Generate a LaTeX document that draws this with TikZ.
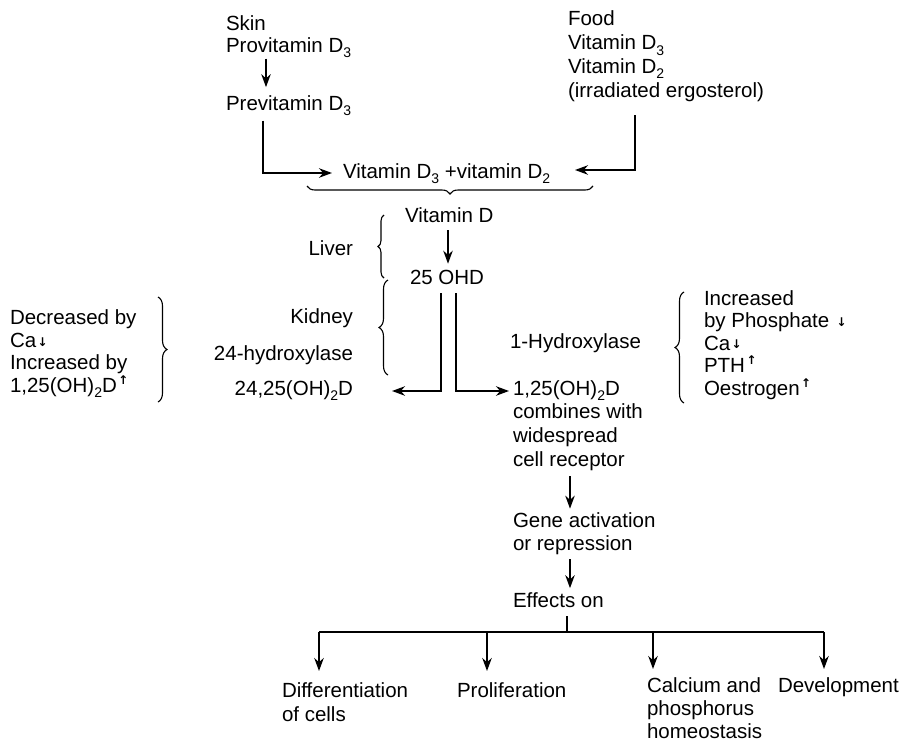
\documentclass[tikz,border=0pt]{standalone}
\usepackage{fontspec}
\setmainfont{Liberation Sans}
\newfontfamily\dejavu{DejaVu Sans}
\usetikzlibrary{arrows.meta,decorations.pathreplacing,calc}
\newcommand\sbs[1]{\raisebox{-0.5ex}{\fontsize{14}{14}\selectfont #1}}
\newcommand\sdn{\hspace{1.5pt}\raisebox{0.1ex}{\fontsize{12}{12}\dejavu\bfseries ↓}}
\newcommand\supar{\hspace{1.5pt}\raisebox{0.7ex}{\fontsize{12}{12}\dejavu\bfseries ↑}}
\begin{document}
\begin{tikzpicture}[x=1pt,y=-1pt,
  txt/.style={inner sep=0pt, outer sep=0pt, font=\fontsize{20.5}{23}\selectfont, align=left},
  ln/.style={line width=1.7pt},
  arr/.style={line width=1.7pt, -{Stealth[length=13pt,width=9.5pt]}},
  brc/.style={line width=1.1pt, decorate, decoration={brace, amplitude=#1}}]
\useasboundingbox (0,0) rectangle (906,745);

% top sources (multi-line nodes: base = baseline of last line)
\node[txt, anchor=base west, font=\fontsize{20.5}{22}\selectfont] (skin) at (226,52) {Skin\\Provitamin D\sbs{3}};
\node[txt, anchor=base west] (prev) at (226,110) {Previtamin D\sbs{3}};
\node[txt, anchor=base west, font=\fontsize{20.5}{23.7}\selectfont] (food) at (568,97) {Food\\Vitamin D\sbs{3}\\Vitamin D\sbs{2}\\(irradiated ergosterol)};
\node[txt, anchor=base west] (vd32) at (343,178) {Vitamin D\sbs{3} +vitamin D\sbs{2}};

\draw[arr] ($(skin.south west)+(40,1)$) -- ($(prev.north west)+(40,-8)$);
\coordinate (t1) at (332,173);
\coordinate (t2) at (575,170);
\draw[arr] ($(prev.south west)+(37,5)$) |- (t1);
\draw[arr] ($(food.south west)+(67,14)$) |- (t2);

\draw[brc=8pt] (593,186) -- (307,186);

\node[txt, anchor=base west] (vitd) at (405,222) {Vitamin D};
\node[txt, anchor=base west] (ohd) at (410,284) {25 OHD};
\coordinate (ax) at (448,0);
\draw[arr] ($(vitd.south -| ax)+(0,8)$) -- ($(ohd.north -| ax)+(0,-6)$);

\node[txt, anchor=base east] (liver) at (353,255) {Liver};
\draw[brc=6pt] (384,278) -- (384,215);

% kidney
\draw[brc=9pt] (388,375) -- (388,280);
\node[txt, anchor=base east] (kid) at (353,323) {Kidney};
\node[txt, anchor=base east] (h24) at (353,360) {24-hydroxylase};
\node[txt, anchor=base east] (d2425) at (353,395) {24,25(OH)\sbs{2}D};

\node[txt, anchor=base west, font=\fontsize{20.5}{22.4}\selectfont] (lgrp) at (10,392)
  {Decreased by\\Ca\sdn\\Increased by\\1,25(OH)\sbs{2}D\supar};
\draw[brc=9pt] (158,297) -- (158,402);

\node[txt, anchor=base west] (h1) at (510,348) {1-Hydroxylase};
\node[txt, anchor=base west, font=\fontsize{20.5}{23.6}\selectfont] (d125) at (513,466)
  {1,25(OH)\sbs{2}D\\combines with\\widespread\\cell receptor};
\draw[brc=9pt] (684,403) -- (684,292);
\node[txt, anchor=base west, font=\fontsize{20.5}{22.5}\selectfont] (rgrp) at (704,395)
  {Increased\\by Phosphate \sdn\\Ca\sdn\\PTH\supar\\Oestrogen\supar};

\coordinate (t3) at (392,391);
\coordinate (t4) at (509,391);
\draw[arr] ($(ohd.south west)+(31,9)$) |- (t3);
\draw[arr] ($(ohd.south west)+(46,9)$) |- (t4);

% lower chain
\node[txt, anchor=base west, font=\fontsize{20.5}{22.5}\selectfont] (gene) at (513,550) {Gene activation\\or repression};
\node[txt, anchor=base west] (eff) at (513,607) {Effects on};
\draw[arr] ($(d125.south west)+(57,6)$) -- ($(gene.north west)+(57,-4)$);
\draw[arr] ($(gene.south west)+(57,5)$) -- ($(eff.north west)+(57,-4)$);

\coordinate (hb) at (567,632);
\coordinate (hl) at (319,632);
\coordinate (hr) at (824,632);
\draw[ln] ($(eff.south west)+(54,9)$) -- (hb);
\draw[ln] (hl) -- (hr);

\node[txt, anchor=base west, font=\fontsize{20.5}{24}\selectfont] (diff) at (282,721) {Differentiation\\of cells};
\node[txt, anchor=base west] (prol) at (457,697) {Proliferation};
\node[txt, anchor=base west] (calc) at (647,738) {Calcium and\\phosphorus\\homeostasis};
\node[txt, anchor=base west] (dev) at (778,692) {Development};

\draw[arr] (hl) -- (hl |- 0,671);
\draw[arr] (487,632) -- (487,671);
\draw[arr] (653,632) -- (653,669);
\draw[arr] (hr) -- (hr |- 0,669);
\end{tikzpicture}
\end{document}
